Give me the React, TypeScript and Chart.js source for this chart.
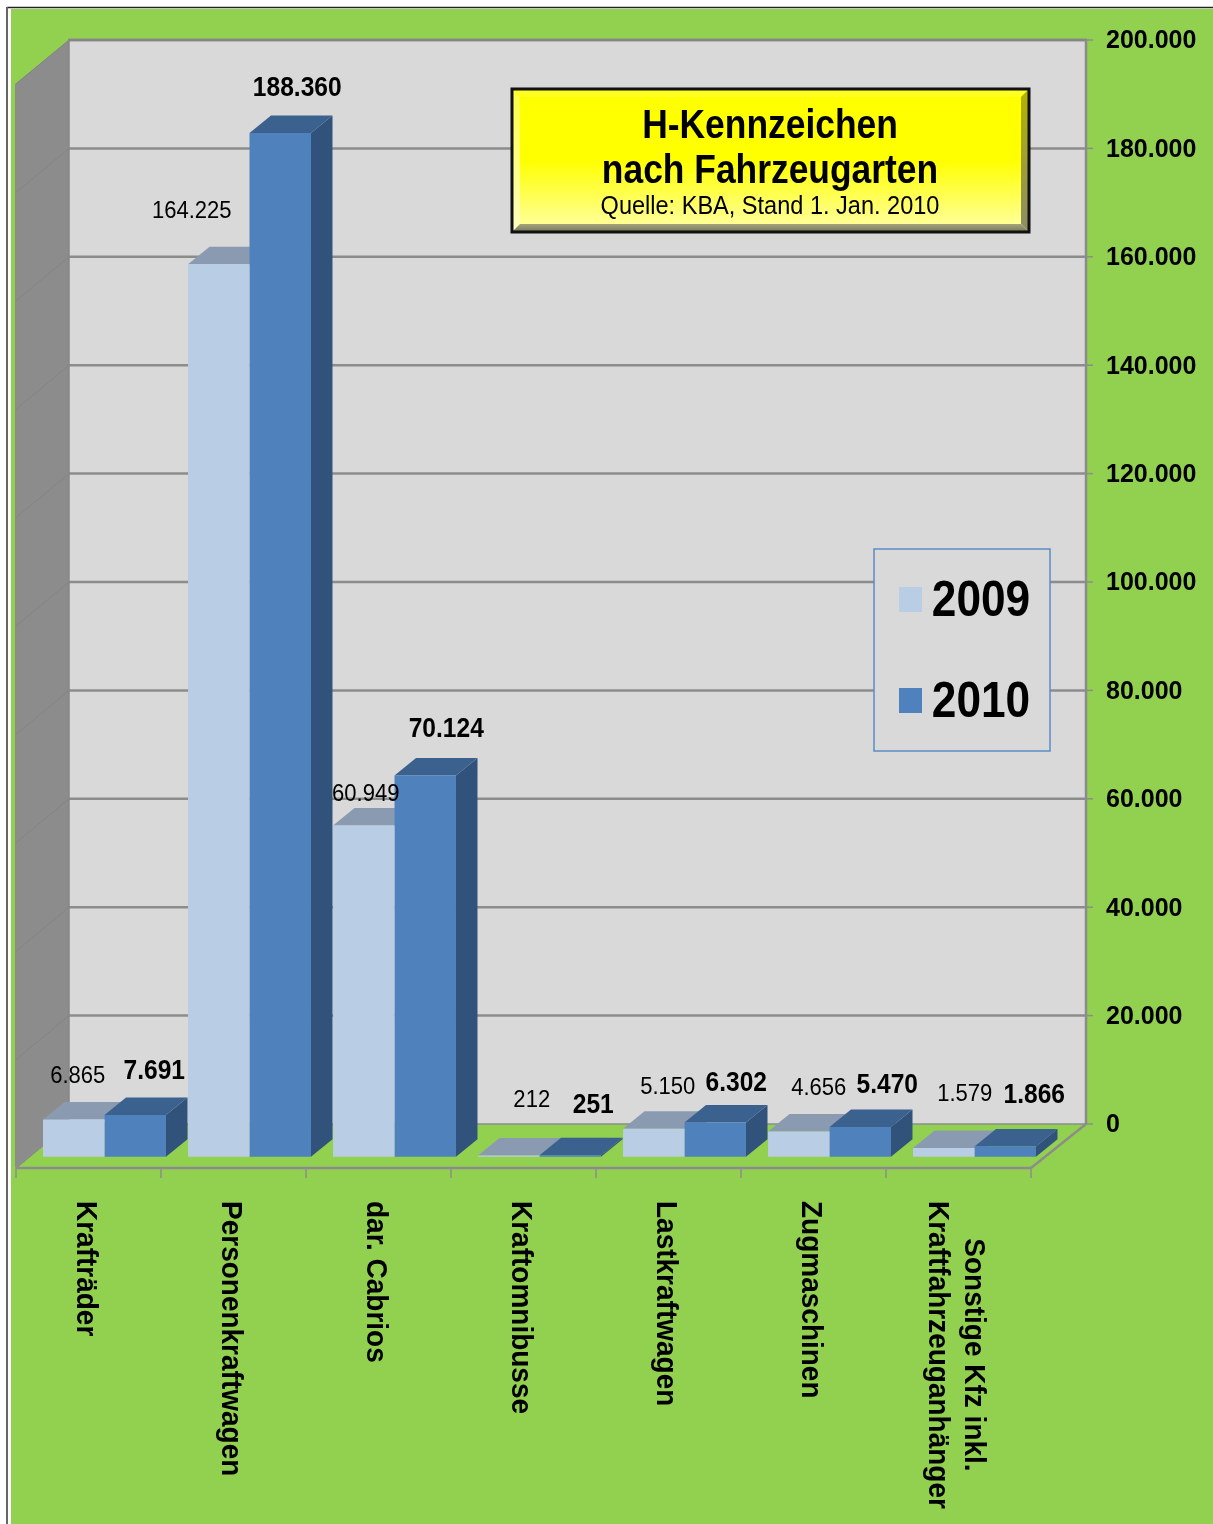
import React, { useEffect, useRef } from "react";
import { Chart, registerables } from "chart.js";

Chart.register(...registerables);

const categories = [
  ["Krafträder"],
  ["Personenkraftwagen"],
  ["dar. Cabrios"],
  ["Kraftomnibusse"],
  ["Lastkraftwagen"],
  ["Zugmaschinen"],
  ["Sonstige Kfz inkl.", "Kraftfahrzeuganhänger"],
];
const seriesNames = ["2009", "2010"];
const values2009 = [6865, 164225, 60949, 212, 5150, 4656, 1579];
const values2010 = [7691, 188360, 70124, 251, 6302, 5470, 1866];
const axisTicks = [0, 20000, 40000, 60000, 80000, 100000, 120000, 140000, 160000, 180000, 200000];
const titleLines = ["H-Kennzeichen", "nach Fahrzeugarten"];
const subtitle = "Quelle: KBA, Stand 1. Jan. 2010";

// hand placement of the value labels relative to the top centre of each bar
const nudge2009 = [[4, -43], [-27, -53], [2, -31], [23, -55], [14, -41], [20, -43], [21, -54]];
const nudge2010 = [[19, -43], [17, -44], [21, -46], [23, -50], [21, -39], [27, -41], [29, -51]];

const FONT = '"Liberation Sans", Arial, sans-serif';
const LIGHT = "#b9cde5";
const DARK = "#4f81bd";
const DX = 21.5;
const DY = 17.5;
const GRID_SHIFT = -1.5; // tick text sits slightly below its grid line in the source
const fmt = (v: number) => String(v).replace(/\B(?=(\d{3})+(?!\d))/g, ".");

function poly(ctx: CanvasRenderingContext2D, pts: number[][], fill: any) {
  ctx.beginPath();
  pts.forEach((p, i) => (i ? ctx.lineTo(p[0], p[1]) : ctx.moveTo(p[0], p[1])));
  ctx.closePath();
  ctx.fillStyle = fill;
  ctx.fill();
}
function line(ctx: CanvasRenderingContext2D, x1: number, y1: number, x2: number, y2: number, c: string, w: number) {
  ctx.beginPath();
  ctx.moveTo(x1, y1);
  ctx.lineTo(x2, y2);
  ctx.strokeStyle = c;
  ctx.lineWidth = w;
  ctx.stroke();
}
// the source picture's type is tall and narrow
function tallText(ctx: CanvasRenderingContext2D, text: string, x: number, y: number, squeeze: number) {
  ctx.save();
  ctx.translate(x, y);
  ctx.scale(squeeze, 1);
  ctx.fillText(text, 0, 0);
  ctx.restore();
}

const stage = {
  id: "stage",
  beforeDraw(chart: any) {
    const { ctx, width, height } = chart;
    const y2 = chart.scales.y2;
    const x = chart.scales.x;
    const backL = 69, backR = 1086, backT = 40, backB = y2.getPixelForValue(0) + GRID_SHIFT;
    const frontL = 16, frontB = 1168;
    const frontR = frontL + (x.right - x.left);
    const shift = x.left - frontL;
    ctx.save();
    ctx.fillStyle = "#ffffff";
    ctx.fillRect(0, 0, width, height);
    ctx.fillStyle = "#92d050";
    ctx.fillRect(11, 9, width - 11, height - 9);
    line(ctx, 7, 7.5, width, 7.5, "#222222", 1.5);
    line(ctx, 7, 7, 7, height, "#666666", 2);
    // walls
    poly(ctx, [[backL, backT], [backR, backT], [backR, backB], [backL, backB]], "#d9d9d9");
    poly(ctx, [[frontL - 1, 84], [backL, backT], [backL, backB], [frontL - 1, frontB]], "#8c8c8c");
    axisTicks.forEach((t) => {
      const py = y2.getPixelForValue(t) + GRID_SHIFT;
      if (t > 0) line(ctx, backL, py, backR, py, "#8c8c8c", 2.5);
      line(ctx, backL, py, frontL, py + 44, "#848484", 1);
      line(ctx, backR, py, 1093, py, "#8c8c8c", 1.5);
    });
    line(ctx, backL - 1, backT, backR + 1, backT, "#868686", 2.5);
    line(ctx, backL, backT, backL, backB, "#868686", 1.5);
    line(ctx, backR, backT, backR, backB, "#8c8c8c", 2.5);
    // floor edges and category separators
    line(ctx, backL, backB, backR, backB, "#8c8c8c", 1.5);
    line(ctx, frontL, frontB, frontR, frontB, "#8c8c8c", 2.5);
    line(ctx, frontL, frontB, backL, backB, "#8c8c8c", 1.5);
    line(ctx, frontR, frontB, backR, backB, "#8c8c8c", 2.5);
    categories.forEach((_, i) => {
      const px = x.getPixelForValue(i) - x.width / categories.length / 2 - shift;
      line(ctx, px, frontB, px, frontB + 10, "#8c8c8c", 1.5);
    });
    line(ctx, frontR, frontB, frontR, frontB + 10, "#8c8c8c", 1.5);
    // category labels
    ctx.fillStyle = "#000000";
    ctx.font = `bold 30px ${FONT}`;
    ctx.textAlign = "center";
    ctx.textBaseline = "middle";
    const squeeze = 0.933;
    categories.forEach((lines, i) => {
      const px = x.getPixelForValue(i) - shift - 3;
      const longest = Math.max(...lines.map((l) => ctx.measureText(l).width)) * squeeze;
      ctx.save();
      ctx.translate(px, 1201);
      ctx.rotate(Math.PI / 2);
      lines.forEach((l, j) => tallText(ctx, l, longest / 2, (j - (lines.length - 1) / 2) * 36, squeeze));
      ctx.restore();
    });
    ctx.restore();
  },
  beforeDatasetsDraw(chart: any) {
    const { ctx } = chart;
    const colours = [
      { top: "#8a9bb1", side: "#8f9fb5" },
      { top: "#3b618f", side: "#31527a" },
    ];
    ctx.save();
    [0, 1].forEach((ds) => {
      chart.getDatasetMeta(ds).data.forEach((bar: any) => {
        const l = bar.x - bar.width / 2;
        const r = bar.x + bar.width / 2;
        poly(ctx, [[r, bar.y], [r + DX, bar.y - DY], [r + DX, bar.base - DY], [r, bar.base]], colours[ds].side);
        poly(ctx, [[l, bar.y], [l + DX, bar.y - DY], [r + DX, bar.y - DY], [r, bar.y]], colours[ds].top);
      });
    });
    ctx.restore();
  },
  afterDatasetsDraw(chart: any) {
    const { ctx } = chart;
    ctx.save();
    ctx.textBaseline = "middle";
    ctx.textAlign = "center";
    ctx.fillStyle = "#000000";
    // value labels
    chart.data.datasets.forEach((d: any, ds: number) => {
      const nudge = ds === 0 ? nudge2009 : nudge2010;
      ctx.font = ds === 0 ? `24.5px ${FONT}` : `bold 27px ${FONT}`;
      chart.getDatasetMeta(ds).data.forEach((bar: any, i: number) => {
        ctx.fillStyle = "#000000";
        tallText(ctx, fmt(d.data[i]), bar.x + nudge[i][0], bar.y + nudge[i][1], ds === 0 ? 0.9 : 0.91);
      });
    });

    // title box
    const bx = 512, by = 89, bw = 517, bh = 143, bev = 8;
    const grad = ctx.createLinearGradient(0, by, 0, by + bh);
    grad.addColorStop(0, "#ffff00");
    grad.addColorStop(0.5, "#ffff00");
    grad.addColorStop(1, "#ffffa8");
    ctx.fillStyle = grad;
    ctx.fillRect(bx, by, bw, bh);
    const R = bx + bw, B = by + bh;
    poly(ctx, [[bx, by], [R, by], [R - bev, by + bev], [bx + bev, by + bev]], "#ffff22");
    const rg = ctx.createLinearGradient(0, by, 0, B);
    rg.addColorStop(0, "#b3b300");
    rg.addColorStop(1, "#8c8c66");
    poly(ctx, [[R, by], [R, B], [R - bev, B - bev], [R - bev, by + bev]], rg);
    const lg = ctx.createLinearGradient(0, by, 0, B);
    lg.addColorStop(0, "#ffff40");
    lg.addColorStop(1, "#ffffc4");
    poly(ctx, [[bx, by], [bx + bev, by + bev], [bx + bev, B - bev], [bx, B]], lg);
    const bg = ctx.createLinearGradient(0, B - bev, 0, B);
    bg.addColorStop(0, "#a3a37c");
    bg.addColorStop(1, "#77775a");
    poly(ctx, [[bx, B], [bx + bev, B - bev], [R - bev, B - bev], [R, B]], bg);
    ctx.strokeStyle = "#111111";
    ctx.lineWidth = 3;
    ctx.strokeRect(bx, by, bw, bh);
    ctx.fillStyle = "#000000";
    ctx.font = `bold 40px ${FONT}`;
    tallText(ctx, titleLines[0], 770, 127, 0.885);
    tallText(ctx, titleLines[1], 770, 172, 0.885);
    ctx.font = `26px ${FONT}`;
    tallText(ctx, subtitle, 770, 207, 0.905);

    // legend box
    ctx.fillStyle = "#d9d9d9";
    ctx.fillRect(874, 549, 176, 202);
    ctx.strokeStyle = "#5b8cc4";
    ctx.lineWidth = 1.5;
    ctx.strokeRect(874, 549, 176, 202);
    ctx.font = `bold 50px ${FONT}`;
    seriesNames.forEach((n, i) => {
      const cy = i === 0 ? 599 : 700;
      ctx.fillStyle = i === 0 ? LIGHT : DARK;
      ctx.fillRect(899, cy - 12, 23, 25);
      ctx.fillStyle = "#000000";
      tallText(ctx, n, 981, cy + 3, 0.885);
    });
    ctx.restore();
  },
};

export default function App() {
  const ref = useRef<HTMLCanvasElement>(null);
  useEffect(() => {
    const chart = new Chart(ref.current!, {
      type: "bar",
      plugins: [stage],
      data: {
        labels: categories.map((c) => c.join(" ")),
        datasets: [
          { label: seriesNames[0], data: values2009, backgroundColor: LIGHT, yAxisID: "y" },
          { label: seriesNames[1], data: values2010, backgroundColor: DARK, yAxisID: "y" },
        ],
      },
      options: {
        responsive: false,
        animation: false,
        devicePixelRatio: 1,
        layout: { padding: { left: 32, top: 40, right: 0, bottom: 0 } },
        datasets: { bar: { categoryPercentage: 0.848, barPercentage: 1 } },
        plugins: { legend: { display: false }, title: { display: false }, tooltip: { enabled: false } },
        scales: {
          x: {
            grid: { display: false },
            border: { display: false },
            ticks: { display: false },
            afterFit: (s: any) => { s.height = 356; },
          },
          y: {
            display: false,
            min: -2079,
            max: 205465,
          },
          y2: {
            position: "right",
            min: -7841,
            max: 200277,
            grid: { display: false, drawTicks: false },
            border: { display: false },
            afterBuildTicks: (s: any) => { s.ticks = axisTicks.map((value) => ({ value })); },
            afterFit: (s: any) => { s.width = 166; s.paddingTop = 0; s.paddingBottom = 0; },
            ticks: {
              autoSkip: false,
              padding: 59,
              color: "#000000",
              font: { family: FONT, size: 25, weight: "bold" },
              callback: (v: any) => fmt(Number(v)),
            },
          },
        },
      } as any,
    });
    return () => chart.destroy();
  }, []);
  return (
    <div style={{ position: "absolute", left: 0, top: 0, width: 1213, height: 1524, overflow: "hidden" }}>
      <canvas ref={ref} width={1213} height={1524} style={{ display: "block" }} />
    </div>
  );
}
